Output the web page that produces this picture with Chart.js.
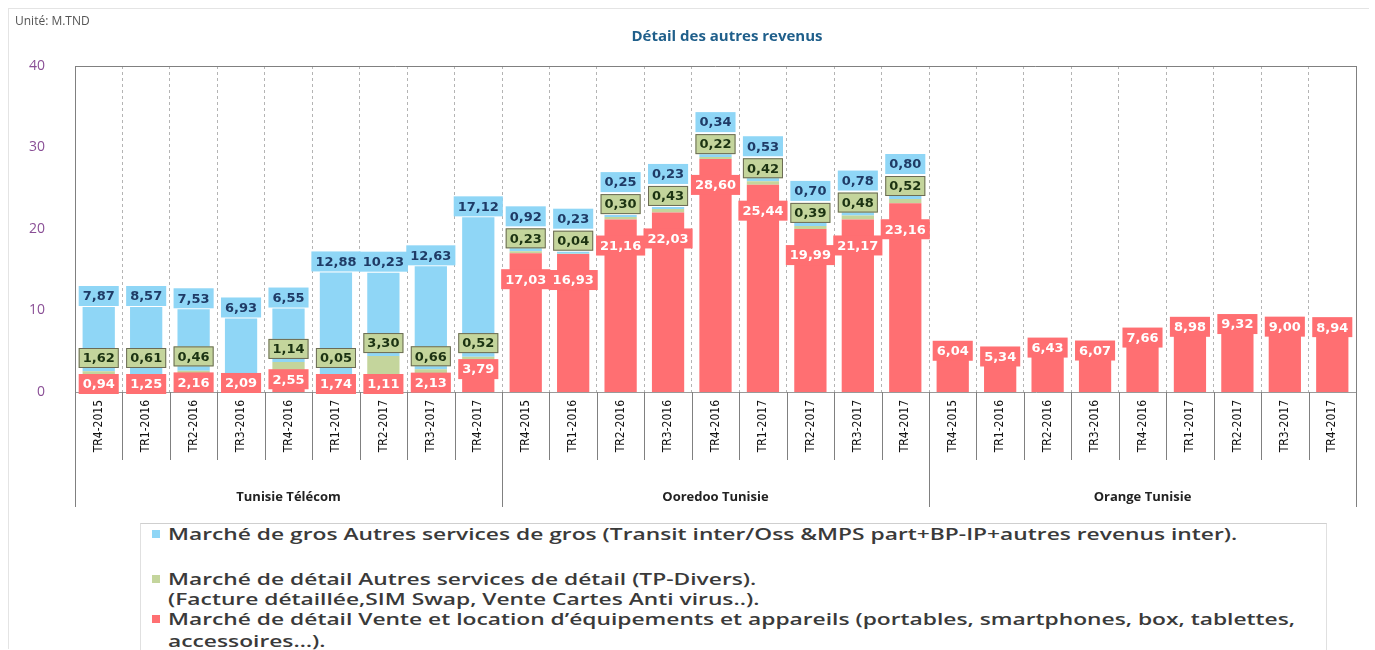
<!DOCTYPE html>
<html>
<head>
<meta charset="utf-8">
<script src="https://cdn.jsdelivr.net/npm/chart.js@4.4.1/dist/chart.umd.min.js"></script>
<style>
  body { margin: 0; background: #fff; width: 1375px; height: 650px; overflow: hidden; position: relative; font-family: "Open Sans", sans-serif; }
  #frame { position: absolute; left: 8px; top: 8px; width: 1360px; height: 640px; border-left: 1px solid #e4e4e4; border-top: 1px solid #e4e4e4; }
  #unit { position: absolute; left: 15px; top: 12px; font-size: 12px; color: #555; }
  #title { position: absolute; left: 0; width: 1454px; top: 25px; text-align: center; font-size: 15px; font-weight: bold; color: #1f5f8b; }
  #wrap { position: absolute; left: 0; top: 0; width: 1375px; height: 520px; }
  #legend { position: absolute; left: 140px; top: 523px; width: 1185px; height: 127px; border-top: 1px solid #cfcfcf; border-left: 1px solid #e0e0e0; border-right: 1px solid #e0e0e0; }
  .row { position: absolute; left: 27px; font-size: 17px; font-weight: 600; color: #3a3a3a; white-space: nowrap; transform: scaleX(1.34); transform-origin: left center; line-height: 20px; }
  .sq { position: absolute; left: 11px; width: 8px; height: 8px; }
</style>
</head>
<body>
<div id="frame"></div>
<div id="wrap"><canvas id="chart" width="1375" height="520"></canvas></div>
<div id="unit">Unité: M.TND</div>
<div id="title">Détail des autres revenus</div>
<div id="legend"></div>
<script>
const quarters = ['TR4-2015', 'TR1-2016', 'TR2-2016', 'TR3-2016', 'TR4-2016', 'TR1-2017', 'TR2-2017', 'TR3-2017', 'TR4-2017'];
const operators = ['Tunisie Télécom', 'Ooredoo Tunisie', 'Orange Tunisie'];
const yTicks = [0, 10, 20, 30, 40];

// Marché de détail Vente et location d'équipements (red)
const venteEquip = [
  0.94, 1.25, 2.16, 2.09, 2.55, 1.74, 1.11, 2.13, 3.79,
  17.03, 16.93, 21.16, 22.03, 28.60, 25.44, 19.99, 21.17, 23.16,
  6.04, 5.34, 6.43, 6.07, 7.66, 8.98, 9.32, 9.00, 8.94
];
// Marché de détail Autres services de détail (green)
const autresDetail = [
  1.62, 0.61, 0.46, null, 1.14, 0.05, 3.30, 0.66, 0.52,
  0.23, 0.04, 0.30, 0.43, 0.22, 0.42, 0.39, 0.48, 0.52,
  null, null, null, null, null, null, null, null, null
];
// Marché de gros Autres services de gros (blue)
const autresGros = [
  7.87, 8.57, 7.53, 6.93, 6.55, 12.88, 10.23, 12.63, 17.12,
  0.92, 0.23, 0.25, 0.23, 0.34, 0.53, 0.70, 0.78, 0.80,
  null, null, null, null, null, null, null, null, null
];

const seriesNames = [
  'Marché de gros Autres services de gros (Transit inter/Oss &MPS part+BP-IP+autres revenus inter).',
  'Marché de détail Autres services de détail (TP-Divers).',
  '(Facture détaillée,SIM Swap, Vente Cartes Anti virus..).',
  'Marché de détail Vente et location d’équipements et appareils (portables, smartphones, box, tablettes,',
  'accessoires…).'
];

const BLUE = '#8fd6f6';
const GREEN = '#c4d59c';
const RED = '#ff6f72';

const labels = operators.flatMap(() => quarters);

const fmt = v => v.toFixed(2).replace('.', ',');

// value labels with coloured boxes
const labelPlugin = {
  id: 'boxLabels',
  afterDatasetsDraw(chart) {
    const ctx = chart.ctx;
    const mRed = chart.getDatasetMeta(0).data;
    const mGreen = chart.getDatasetMeta(1).data;
    const mBlue = chart.getDatasetMeta(2).data;
    ctx.save();
    ctx.font = 'bold 13px "DejaVu Sans", sans-serif';
    ctx.textAlign = 'center';
    ctx.textBaseline = 'middle';
    const box = (x, y, txt, bg, fg, border) => {
      const w = ctx.measureText(txt).width + 8;
      ctx.fillStyle = bg;
      ctx.fillRect(x - w / 2, y - 10, w, 20);
      if (border) {
        ctx.strokeStyle = border;
        ctx.lineWidth = 1;
        ctx.strokeRect(x - w / 2 + 0.5, y - 9.5, w - 1, 19);
      }
      ctx.fillStyle = fg;
      ctx.fillText(txt, x, y + 1);
    };
    labels.forEach((_, i) => {
      const r = mRed[i], g = mGreen[i], b = mBlue[i];
      const base = r.base;
      let redY = null, greenY = null;
      if (venteEquip[i] != null) {
        redY = venteEquip[i] > 12 ? r.y + 26 : r.y + 8;
        redY = Math.min(redY, base - 8);
        box(r.x, redY, fmt(venteEquip[i]), RED, '#fff');
      }
      if (autresDetail[i] != null) {
        greenY = g.y - 13;
        if (redY != null) greenY = Math.min(greenY, redY - 26);
        box(g.x, greenY, fmt(autresDetail[i]), GREEN, '#1c3312', '#6b6b55');
      }
      if (autresGros[i] != null) {
        let y = b.y - 11;
        if (greenY != null) y = Math.min(y, greenY - 22);
        else if (redY != null) y = Math.min(y, redY - 26);
        box(b.x, y, fmt(autresGros[i]), BLUE, '#1f3b66');
      }
    });
    ctx.restore();
  }
};

// plot frame and separators in the category area
const framePlugin = {
  id: 'frameLines',
  afterDraw(chart) {
    const ctx = chart.ctx;
    const xs = chart.scales.x;
    const { top, bottom, left, right } = chart.chartArea;
    const half = (xs.getPixelForValue(1) - xs.getPixelForValue(0)) / 2;
    ctx.save();
    ctx.strokeStyle = '#808080';
    ctx.lineWidth = 1;
    ctx.beginPath();
    ctx.moveTo(left, top + 0.5);
    ctx.lineTo(right, top + 0.5);
    ctx.moveTo(right + 0.5, top);
    ctx.lineTo(right + 0.5, bottom + 115);
    ctx.moveTo(left + 0.5, top);
    ctx.lineTo(left + 0.5, bottom + 115);
    for (let i = 1; i < labels.length; i++) {
      const x = Math.round(xs.getPixelForValue(i) - half) + 0.5;
      const len = i % quarters.length === 0 ? 115 : 68;
      ctx.moveTo(x, bottom);
      ctx.lineTo(x, bottom + len);
    }
    ctx.stroke();
    ctx.restore();
  }
};

new Chart(document.getElementById('chart'), {
  type: 'bar',
  data: {
    labels: labels,
    datasets: [
      { label: seriesNames[3], data: venteEquip, backgroundColor: RED },
      { label: seriesNames[1], data: autresDetail, backgroundColor: GREEN },
      { label: seriesNames[0], data: autresGros, backgroundColor: BLUE }
    ]
  },
  options: {
    responsive: false,
    animation: false,
    layout: { padding: { top: 66, right: 19, bottom: 13, left: 0 } },
    datasets: { bar: { categoryPercentage: 1, barPercentage: 0.68 } },
    plugins: { legend: { display: false }, tooltip: { enabled: false } },
    scales: {
      x: {
        stacked: true,
        weight: 0,
        grid: { offset: true, color: '#b4b4b4', drawTicks: false },
        border: { color: '#9a9a9a', dash: [3, 3] },
        ticks: {
          autoSkip: false, minRotation: 90, maxRotation: 90, padding: 8,
          color: '#111', font: { family: '"Liberation Sans Narrow", "DejaVu Sans Condensed", sans-serif', size: 12 }
        },
        afterFit: s => { s.height = 70; }
      },
      groups: {
        type: 'category',
        labels: operators,
        position: 'bottom',
        offset: true,
        weight: 1,
        grid: { display: false, drawTicks: false },
        border: { display: false },
        ticks: { padding: 27, color: '#222', font: { family: '"Open Sans", sans-serif', size: 13, weight: 'bold' } },
        afterFit: s => { s.height = 45; }
      },
      y: {
        stacked: true,
        min: 0,
        max: 40,
        grid: { display: false },
        border: { color: '#808080' },
        afterBuildTicks: s => { s.ticks = yTicks.map(v => ({ value: v })); },
        ticks: { padding: 22, color: '#8a4f96', font: { family: '"Open Sans", sans-serif', size: 14 } },
        afterFit: s => { s.width = 75; }
      }
    }
  },
  plugins: [labelPlugin, framePlugin]
});

// legend (blue, green, red like the original)
const legend = document.getElementById('legend');
const rows = [
  { text: seriesNames[0], y: 0, color: BLUE },
  { text: seriesNames[1], y: 45, color: GREEN },
  { text: seriesNames[2], y: 65 },
  { text: seriesNames[3], y: 85, color: RED },
  { text: seriesNames[4], y: 107 }
];
rows.forEach(r => {
  const d = document.createElement('div');
  d.className = 'row';
  d.style.top = r.y + 'px';
  d.textContent = r.text;
  legend.appendChild(d);
  if (r.color) {
    const s = document.createElement('div');
    s.className = 'sq';
    s.style.top = (r.y + 6) + 'px';
    s.style.background = r.color;
    legend.appendChild(s);
  }
});
</script>
</body>
</html>
